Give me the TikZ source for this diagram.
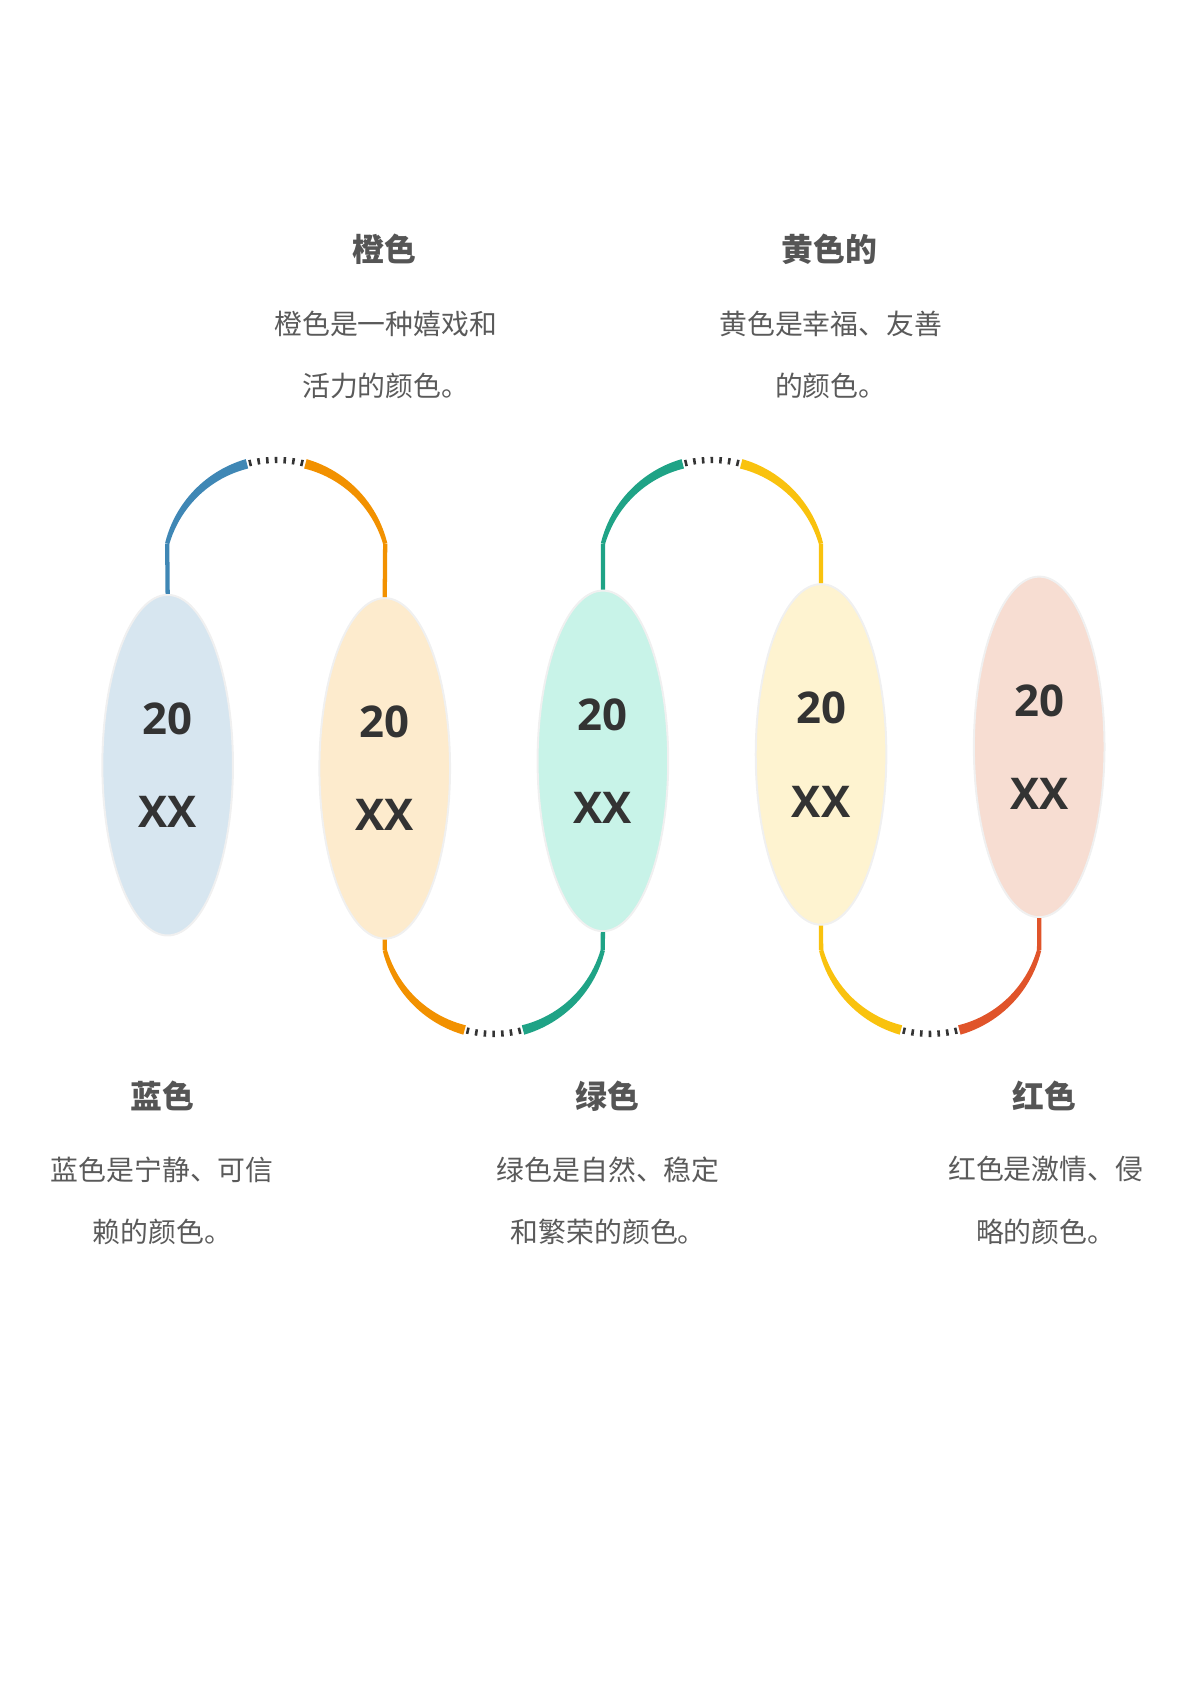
\documentclass[tikz,border=0pt]{standalone}
\usepackage{fontspec}
\newfontfamily\cjk{Noto Sans CJK SC}
\newfontfamily\numfont{Open Sans}
\usetikzlibrary{shapes.geometric}
\definecolor{cblue}{HTML}{3F87B5}
\definecolor{corange}{HTML}{F29100}
\definecolor{cteal}{HTML}{1FA386}
\definecolor{cyellow}{HTML}{F9C20E}
\definecolor{cred}{HTML}{E0542A}
\definecolor{fblue}{HTML}{D7E6F0}
\definecolor{forange}{HTML}{FDEBCD}
\definecolor{fteal}{HTML}{C8F3E8}
\definecolor{fyellow}{HTML}{FEF3D0}
\definecolor{fred}{HTML}{F7DDD2}
\definecolor{chead}{HTML}{555555}
\definecolor{cbody}{HTML}{5A5A5A}
\definecolor{cnum}{HTML}{333333}
\tikzset{
    oval/.style={ellipse, minimum width=65.7pt, minimum height=171.3pt, inner sep=0pt,
        draw=black!6, line width=1pt, align=center, text=cnum,
        font=\numfont\bfseries\fontsize{22pt}{47pt}\selectfont},
    head/.style={text=chead, font=\cjk\bfseries\fontsize{16pt}{18pt}\selectfont},
    body/.style={text=cbody, align=center, font=\cjk\fontsize{14pt}{31.2pt}\selectfont},
    dots/.style={line width=3.2pt, dash pattern=on 1.3pt off 3.08pt, color=cnum}
}
\begin{document}
\begin{tikzpicture}[x=0.019cm, y=0.019cm]
    \useasboundingbox (-1,0) rectangle (1108,-1567);
    \node[oval, fill=fblue]   (e1) at (155,-712) {20\\XX};
    \node[oval, fill=forange] (e2) at (357,-715) {20\\XX};
    \node[oval, fill=fteal]   (e3) at (560,-708) {20\\XX};
    \node[oval, fill=fyellow] (e4) at (763,-702) {20\\XX};
    \node[oval, fill=fred]    (e5) at (966,-695) {20\\XX};
    \coordinate (c1) at (256,-533);
    \coordinate (c2) at (661.5,-533);
    \coordinate (c3) at (458.5,-857);
    \coordinate (c4) at (864.5,-857);
    \foreach \c/\a/\b/\col/\e in {c1/165/105/cblue/e1.north, c1/15/75/corange/e2.north,
        c2/165/105/cteal/e3.north, c2/15/75/cyellow/e4.north,
        c3/195/255/corange/e2.south, c3/345/285/cteal/e3.south,
        c4/195/255/cyellow/e4.south, c4/345/285/cred/e5.south}{
        \draw[line width=2.15pt, color=\col] (\e) -- ([shift={(\a:105)}]\c);
        \fill[color=\col, shift={(\c)}]
            plot[domain=\a:\b, samples=25] (\x:{103-2.5*(\x-\a)/(\b-\a)})
            -- plot[domain=\b:\a, samples=25] (\x:{107+2.5*(\x-\a)/(\b-\a)}) -- cycle;
    }
    \foreach \c/\s/\d in {c1/104/-28, c2/104/-28, c3/256/28, c4/256/28}
        \draw[dots] ([shift={(\s:105)}]\c) arc[start angle=\s, delta angle=\d, radius=105];
    \node[head] (h2) at (357,-232) {橙色};
    \node[body] (t2) at (358,-330) {橙色是一种嬉戏和\\活力的颜色。};
    \node[head] (h4) at (771,-232) {黄色的};
    \node[body] (t4) at (772,-330) {黄色是幸福、友善\\的颜色。};
    \node[head] (h1) at (150,-1020) {蓝色};
    \node[body] (t1) at (150,-1117) {蓝色是宁静、可信\\赖的颜色。};
    \node[head] (h3) at (564,-1020) {绿色};
    \node[body] (t3) at (565,-1117) {绿色是自然、稳定\\和繁荣的颜色。};
    \node[head] (h5) at (971,-1020) {红色};
    \node[body] (t5) at (972,-1117) {红色是激情、侵\\略的颜色。};
\end{tikzpicture}
\end{document}
